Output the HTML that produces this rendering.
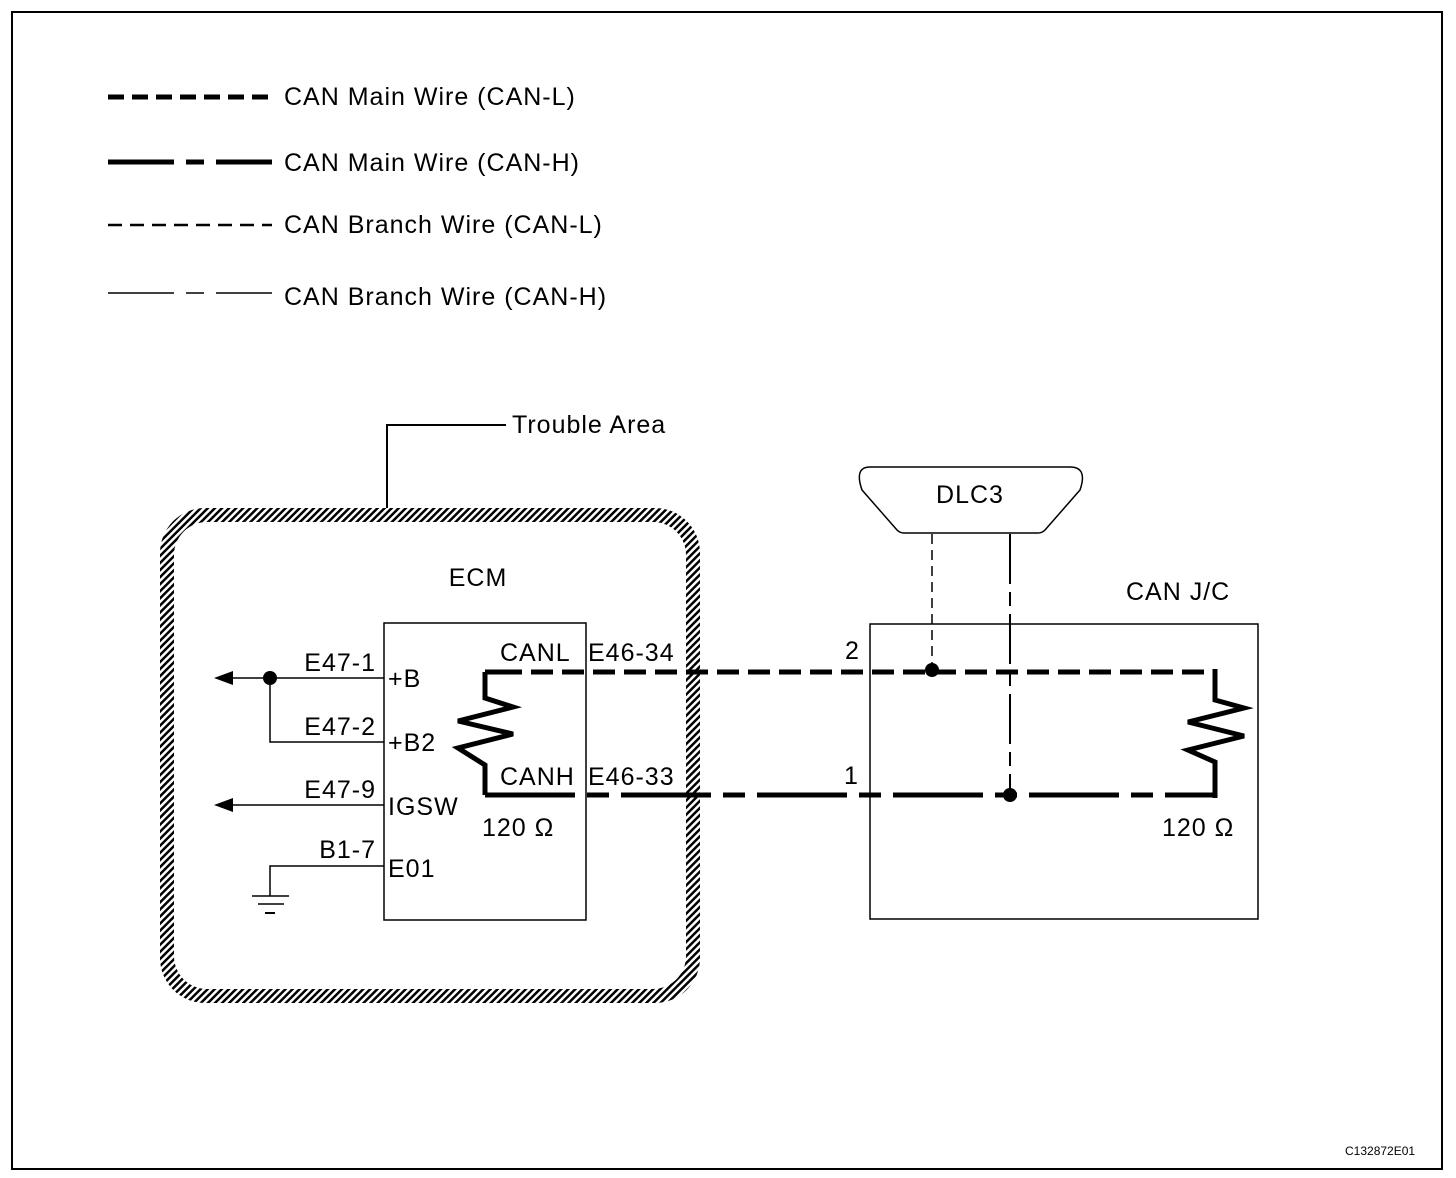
<!DOCTYPE html>
<html><head><meta charset="utf-8"><style>
html,body{margin:0;padding:0;background:#fff}
svg{display:block}
text{font-family:"Liberation Sans",Arial,sans-serif;fill:#000;letter-spacing:1px}
</style></head><body>
<svg width="1456" height="1178" viewBox="0 0 1456 1178" xmlns="http://www.w3.org/2000/svg">
<defs>
<pattern id="hatch" patternUnits="userSpaceOnUse" width="5" height="5" patternTransform="rotate(45)">
<rect width="5" height="5" fill="#fff"/>
<rect width="2.5" height="5" fill="#000"/>
</pattern>
</defs>
<rect x="12" y="12" width="1430" height="1157" fill="none" stroke="#000" stroke-width="2"/>

<!-- legend -->
<g fill="none" stroke="#000">
<line x1="108" y1="97" x2="272" y2="97" stroke-width="5" stroke-dasharray="16 8"/>
<line x1="108" y1="162" x2="272" y2="162" stroke-width="5" stroke-dasharray="66 12 18 12 66"/>
<line x1="108" y1="225" x2="272" y2="225" stroke-width="2.5" stroke-dasharray="14 8"/>
<line x1="108" y1="293" x2="272" y2="293" stroke-width="1.5" stroke-dasharray="66 12 18 12 66"/>
</g>
<g font-size="25">
<text x="284" y="105">CAN Main Wire (CAN-L)</text>
<text x="284" y="171">CAN Main Wire (CAN-H)</text>
<text x="284" y="233">CAN Branch Wire (CAN-L)</text>
<text x="284" y="305">CAN Branch Wire (CAN-H)</text>
</g>

<!-- trouble area -->
<polyline points="387,508 387,425 506,425" fill="none" stroke="#000" stroke-width="2"/>
<text x="512" y="433" font-size="25">Trouble Area</text>
<path fill-rule="evenodd" fill="url(#hatch)" d="M205,508 H655 A45,45 0 0 1 700,553 V958 A45,45 0 0 1 655,1003 H205 A45,45 0 0 1 160,958 V553 A45,45 0 0 1 205,508 Z M207,522 H653 A33,33 0 0 1 686,555 V956 A33,33 0 0 1 653,989 H207 A33,33 0 0 1 174,956 V555 A33,33 0 0 1 207,522 Z"/>

<rect x="384" y="623" width="202" height="297" fill="none" stroke="#000" stroke-width="1.5"/>

<!-- left wiring -->
<g stroke="#000" stroke-width="1.5" fill="none">
<line x1="230" y1="678" x2="384" y2="678"/>
<polyline points="270,678 270,742 384,742"/>
<line x1="230" y1="805" x2="384" y2="805"/>
<polyline points="384,866 270,866 270,896"/>
<line x1="252" y1="896" x2="289" y2="896"/>
<line x1="258" y1="904" x2="284" y2="904"/>
<line x1="265" y1="913" x2="275" y2="913" stroke-width="2"/>
</g>
<circle cx="270" cy="678" r="7"/>
<polygon points="214,678 233,671 233,685"/>
<polygon points="214,805 233,798 233,812"/>

<!-- ECM resistor -->
<polyline points="485,672 485,698 513,707 458,721 513,734 458,748 485,765 485,795" fill="none" stroke="#000" stroke-width="5" stroke-linejoin="miter"/>
<line x1="485" y1="672" x2="500" y2="672" stroke="#000" stroke-width="5"/>

<!-- CAN-L main -->
<line x1="500" y1="672" x2="1215" y2="672" stroke="#000" stroke-width="5" stroke-dasharray="22 9"/>
<!-- CAN-H main -->
<line x1="485" y1="795" x2="1215" y2="795" stroke="#000" stroke-width="5" stroke-dasharray="90 12 22 12"/>

<!-- J/C -->
<rect x="870" y="624" width="388" height="295" fill="none" stroke="#000" stroke-width="1.5"/>
<polyline points="1215,669 1215,700 1244,708 1188,722 1244,736 1188,750 1215,762 1215,798" fill="none" stroke="#000" stroke-width="5"/>

<!-- DLC3 -->
<path d="M870,467 H1070 Q1088,467 1080,490 L1045,530 Q1042,533 1038,533 H904 Q900,533 897,530 L862,490 Q854,467 870,467 Z" fill="#fff" stroke="#000" stroke-width="1.5"/>
<line x1="932" y1="534" x2="932" y2="672" stroke="#000" stroke-width="1.5" stroke-dasharray="10 6"/>
<line x1="1010" y1="534" x2="1010" y2="795" stroke="#000" stroke-width="2" stroke-dasharray="50 8 14 8"/>
<circle cx="932" cy="670" r="7"/>
<circle cx="1010" cy="795" r="7"/>

<g font-size="25">
<text x="478" y="586" text-anchor="middle">ECM</text>
<text x="376" y="671" text-anchor="end">E47-1</text>
<text x="376" y="735" text-anchor="end">E47-2</text>
<text x="376" y="798" text-anchor="end">E47-9</text>
<text x="376" y="858" text-anchor="end">B1-7</text>
<text x="388" y="687">+B</text>
<text x="388" y="751">+B2</text>
<text x="388" y="815">IGSW</text>
<text x="388" y="877">E01</text>
<text x="500" y="661">CANL</text>
<text x="588" y="661">E46-34</text>
<text x="500" y="785">CANH</text>
<text x="588" y="785">E46-33</text>
<text x="482" y="836">120 Ω</text>
<text x="845" y="659">2</text>
<text x="844" y="784">1</text>
<text x="1162" y="836">120 Ω</text>
<text x="1126" y="600">CAN J/C</text>
<text x="970" y="503" text-anchor="middle">DLC3</text>
</g>

<text x="1345" y="1155" font-size="12" style="letter-spacing:0">C132872E01</text>
</svg>
</body></html>
